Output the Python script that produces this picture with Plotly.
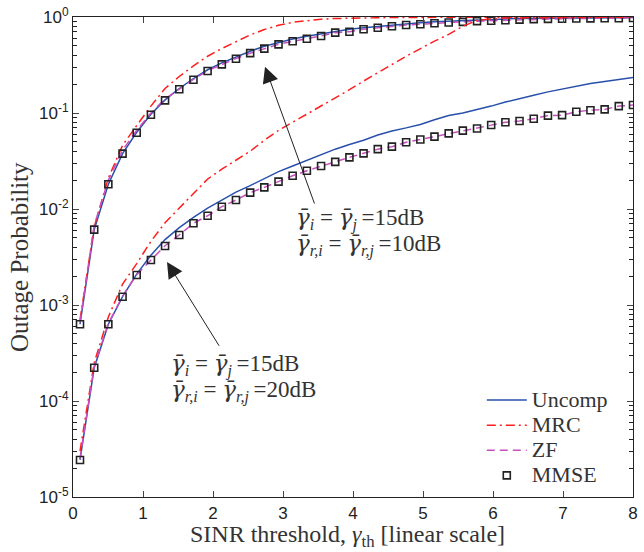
import plotly.graph_objects as go

# ---------------- data ----------------
gamma_th = [0.100, 0.303, 0.505, 0.708, 0.910, 1.113, 1.315, 1.518, 1.721, 1.923,
            2.126, 2.328, 2.531, 2.733, 2.936, 3.138, 3.341, 3.544, 3.746, 3.949,
            4.151, 4.354, 4.556, 4.759, 4.962, 5.164, 5.367, 5.569, 5.772, 5.974,
            6.177, 6.379, 6.582, 6.785, 6.987, 7.190, 7.392, 7.595, 7.797, 8.000]

# relay SNR 10 dB (upper group)
uncomp_10 = [6.3e-4, 6.1e-3, 0.0181, 0.0377, 0.063, 0.097, 0.137, 0.18, 0.228, 0.282,
             0.333, 0.385, 0.44, 0.495, 0.545, 0.59, 0.63, 0.67, 0.71, 0.745,
             0.775, 0.80, 0.825, 0.85, 0.87, 0.89, 0.905, 0.92, 0.935, 0.945,
             0.955, 0.965, 0.97, 0.975, 0.978, 0.98, 0.982, 0.984, 0.985, 0.986]
mrc_10 = [7.0e-4, 6.5e-3, 0.021, 0.046, 0.074, 0.118, 0.18, 0.24, 0.31, 0.39,
          0.47, 0.55, 0.65, 0.74, 0.82, 0.88, 0.92, 0.95, 0.965, 0.975,
          0.98, 0.985, 0.988, 0.99, 0.99, 0.992, 0.993, 0.994, 0.995, 0.995,
          0.996, 0.996, 0.997, 0.997, 0.997, 0.998, 0.998, 0.998, 0.998, 0.998]
zf_10 = [6.6e-4, 6.8e-3, 0.020, 0.041, 0.066, 0.100, 0.140, 0.179, 0.224, 0.276,
         0.322, 0.369, 0.42, 0.468, 0.519, 0.558, 0.594, 0.634, 0.687, 0.703,
         0.745, 0.774, 0.80, 0.826, 0.84, 0.86, 0.875, 0.89, 0.905, 0.915,
         0.925, 0.94, 0.95, 0.955, 0.96, 0.965, 0.968, 0.97, 0.972, 0.975]
mmse_10 = [6.3e-4, 6.1e-3, 0.0181, 0.0377, 0.0623, 0.096, 0.1355, 0.1766, 0.222, 0.274,
           0.321, 0.368, 0.42, 0.468, 0.519, 0.558, 0.594, 0.634, 0.687, 0.703,
           0.745, 0.774, 0.80, 0.826, 0.84, 0.86, 0.875, 0.89, 0.905, 0.915,
           0.925, 0.94, 0.95, 0.955, 0.96, 0.965, 0.968, 0.97, 0.972, 0.975]

# relay SNR 20 dB (lower group)
uncomp_20 = [2.43e-5, 2.22e-4, 6.3e-4, 1.22e-3, 2.1e-3, 3.3e-3, 4.8e-3, 6.4e-3, 8.2e-3, 0.0102,
             0.0124, 0.0150, 0.0175, 0.0205, 0.0245, 0.028, 0.032, 0.037, 0.042, 0.047,
             0.052, 0.059, 0.065, 0.070, 0.076, 0.085, 0.094, 0.100, 0.108, 0.118,
             0.130, 0.142, 0.153, 0.166, 0.178, 0.19, 0.203, 0.213, 0.224, 0.235]
mrc_20 = [3.0e-5, 2.5e-4, 7.5e-4, 1.65e-3, 2.7e-3, 4.6e-3, 7.2e-3, 0.0102, 0.0148, 0.0205,
          0.026, 0.032, 0.040, 0.052, 0.066, 0.080, 0.097, 0.12, 0.145, 0.175,
          0.215, 0.265, 0.32, 0.39, 0.47, 0.56, 0.66, 0.80, 0.92, 0.96,
          0.975, 0.98, 0.985, 0.99, 0.99, 0.992, 0.993, 0.994, 0.995, 0.995]
zf_20 = [2.5e-5, 2.3e-4, 6.4e-4, 1.24e-3, 2.07e-3, 2.96e-3, 4.14e-3, 5.38e-3, 7.1e-3, 8.5e-3,
         0.01057, 0.0124, 0.0148, 0.0168, 0.0193, 0.0222, 0.025, 0.028, 0.031, 0.0345,
         0.038, 0.042, 0.0446, 0.0495, 0.053, 0.0567, 0.0614, 0.0655, 0.069, 0.075,
         0.080, 0.0826, 0.087, 0.094, 0.095, 0.103, 0.107, 0.109, 0.118, 0.121]
mmse_20 = [2.43e-5, 2.22e-4, 6.3e-4, 1.22e-3, 2.05e-3, 2.94e-3, 4.12e-3, 5.36e-3, 7.1e-3, 8.5e-3,
           0.01057, 0.0124, 0.0148, 0.0168, 0.0193, 0.0222, 0.025, 0.028, 0.031, 0.0345,
           0.038, 0.042, 0.0446, 0.0495, 0.053, 0.0567, 0.0614, 0.0655, 0.069, 0.075,
           0.080, 0.0826, 0.087, 0.094, 0.095, 0.103, 0.107, 0.109, 0.118, 0.121]

series_names = ["Uncomp", "MRC", "ZF", "MMSE"]
x_ticks = [0, 1, 2, 3, 4, 5, 6, 7, 8]
y_tickvals = [1e-5, 1e-4, 1e-3, 1e-2, 1e-1, 1]
y_ticktext = ["10<sup>-5</sup>", "10<sup>-4</sup>", "10<sup>-3</sup>",
              "10<sup>-2</sup>", "10<sup>-1</sup>", "10<sup>0</sup>"]

# ---------------- styles ----------------
BLUE = "rgb(40,80,170)"
RED = "rgb(255,30,30)"
MAG = "rgb(200,80,190)"
SERIF = "Liberation Serif, Times New Roman, serif"
SANS = "Liberation Sans, Arial, sans-serif"
TXT = "#333"

def lname(s):
    return "<span style=\"font-size:22px\">" + s + "</span>"

fig = go.Figure()
for grp, (u, m, z, mm) in enumerate([(uncomp_10, mrc_10, zf_10, mmse_10),
                                     (uncomp_20, mrc_20, zf_20, mmse_20)]):
    show = grp == 0
    fig.add_trace(go.Scatter(x=gamma_th, y=u, mode="lines", name=lname(series_names[0]),
                             line=dict(color=BLUE, width=1.5), showlegend=show,
                             legendrank=1))
    fig.add_trace(go.Scatter(x=gamma_th, y=m, mode="lines", name=lname(series_names[1]),
                             line=dict(color=RED, width=1.5, dash="9px,4px,2px,4px"),
                             showlegend=show, legendrank=2))
    fig.add_trace(go.Scatter(x=gamma_th, y=z, mode="lines", name=lname(series_names[2]),
                             line=dict(color=MAG, width=1.5, dash="8px,5px"),
                             showlegend=show, legendrank=3))
    fig.add_trace(go.Scatter(x=gamma_th, y=mm, mode="markers", name=lname(series_names[3]),
                             marker=dict(symbol="square-open", size=7, color="#222",
                                         line=dict(width=1.6, color="#222")),
                             showlegend=show, legendrank=4))

# ---------------- annotations ----------------
def g(sub):
    return ("<span style=\"font-family:DejaVu Serif\"><i>γ̄</i></span>"
            "<sub><i>" + sub + "</i></sub>")

def tl(txt, x, y):
    fig.add_annotation(x=x, y=y, xref="x", yref="y", text=txt, showarrow=False,
                       xanchor="left", yanchor="middle",
                       font=dict(family=SERIF, size=23, color=TXT))

lab1 = g("i") + " = " + g("j") + "\u2009=15dB"
lab2_10 = g("r,i") + " = " + g("r,j") + "\u2009=10dB"
lab2_20 = g("r,i") + " = " + g("r,j") + "\u2009=20dB"
tl(lab1, 3.15, -2.10)
tl(lab2_10, 3.15, -2.37)
tl(lab1, 1.37, -3.63)
tl(lab2_20, 1.37, -3.90)

for (hx, hy, tx, ty) in [(2.743, -0.518, 3.457, -1.958), (1.343, -2.552, 2.10, -3.44)]:
    fig.add_annotation(x=hx, y=hy, ax=tx, ay=ty, xref="x", yref="y", axref="x", ayref="y",
                       text="", showarrow=True, arrowhead=2, arrowsize=3.2,
                       arrowwidth=1.0, arrowcolor="#222", standoff=0)

for (x0, x1, y0, y1) in [(2.504, 2.661, -0.552, -0.049), (1.061, 1.267, -2.618, -2.115)]:
    fig.add_shape(type="circle", xref="x", yref="y", x0=x0, x1=x1, y0=y0, y1=y1,
                  line=dict(color="#222", width=0.9))

# axis titles
fig.add_annotation(x=-0.0964, y=0.5, xref="paper", yref="paper", textangle=-90,
                   text="Outage Probability", showarrow=False,
                   xanchor="center", yanchor="middle",
                   font=dict(family=SERIF, size=25, color=TXT))
fig.add_annotation(x=0.491, y=-0.081, xref="paper", yref="paper",
                   text="SINR threshold, <i>γ</i><sub>th</sub> [linear scale]",
                   showarrow=False, xanchor="center", yanchor="middle",
                   font=dict(family=SERIF, size=24, color=TXT))

fig.update_layout(
    width=644, height=552,
    margin=dict(l=73, r=11, t=17, b=55),
    paper_bgcolor="white", plot_bgcolor="white",
    showlegend=True,
    legend=dict(x=0.730, y=0.2385, xanchor="left", yanchor="top",
                bgcolor="rgba(0,0,0,0)", font=dict(family=SERIF, size=17, color=TXT),
                tracegroupgap=0, itemwidth=40),
    xaxis=dict(range=[0, 8], tickvals=x_ticks, ticks="inside", ticklen=6,
               showline=True, linecolor="#222", linewidth=1.2, mirror="ticks",
               showgrid=False, zeroline=False, automargin=False,
               ticklabeloverflow="allow",
               tickfont=dict(family=SANS, size=17, color="#222")),
    yaxis=dict(type="log", range=[-5, 0], tickvals=y_tickvals, ticktext=y_ticktext,
               ticks="inside", ticklen=6,
               showline=True, linecolor="#222", linewidth=1.2, mirror="ticks",
               showgrid=False, zeroline=False, automargin=False,
               ticklabeloverflow="allow",
               minor=dict(ticks="inside", ticklen=3.5, dtick="D1", showgrid=False,
                          tickcolor="#222"),
               tickfont=dict(family=SANS, size=17, color="#222")),
)

# remove the browser's default 8px body margin so the figure fills the window
fig.write_html("out.html", config={"displayModeBar": False},
               post_script="document.body.style.margin='0';document.body.style.overflow='hidden';")
